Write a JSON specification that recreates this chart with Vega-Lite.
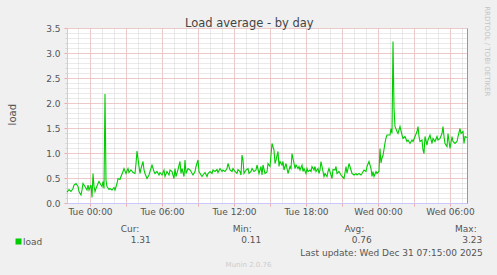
{
"$schema":"https://vega.github.io/schema/vega-lite/v6.json",
"width":400,"height":175,
"autosize":{"type":"none"},
"padding":{"left":67,"top":28,"right":30,"bottom":72},
"background":"#f0f0f0",
"config":{
 "view":{"fill":"#ffffff","stroke":null},
 "font":"DejaVu Sans",
 "axis":{"labelFont":"DejaVu Sans","titleFont":"DejaVu Sans","labelColor":"#555555","titleColor":"#555555","titleFontWeight":"normal","labelFontSize":9,"titleFontSize":9}
},
"datasets":{
"series":[
{"t":"2025-12-29T22:05","v":0.22},{"t":"2025-12-29T22:10","v":0.24},{"t":"2025-12-29T22:15","v":0.27},{"t":"2025-12-29T22:25","v":0.23},{"t":"2025-12-29T22:35","v":0.29},{"t":"2025-12-29T22:40","v":0.36},{"t":"2025-12-29T22:50","v":0.39},{"t":"2025-12-29T23:00","v":0.33},{"t":"2025-12-29T23:05","v":0.23},{"t":"2025-12-29T23:15","v":0.16},{"t":"2025-12-29T23:20","v":0.26},{"t":"2025-12-29T23:25","v":0.39},{"t":"2025-12-29T23:35","v":0.33},{"t":"2025-12-29T23:45","v":0.26},{"t":"2025-12-29T23:50","v":0.36},{"t":"2025-12-29T23:55","v":0.26},
{"t":"2025-12-30T00:05","v":0.36},{"t":"2025-12-30T00:10","v":0.11},{"t":"2025-12-30T00:15","v":0.59},{"t":"2025-12-30T00:20","v":0.33},{"t":"2025-12-30T00:25","v":0.23},{"t":"2025-12-30T00:30","v":0.29},{"t":"2025-12-30T00:40","v":0.39},{"t":"2025-12-30T00:45","v":0.43},{"t":"2025-12-30T00:55","v":0.36},{"t":"2025-12-30T01:00","v":0.33},{"t":"2025-12-30T01:05","v":0.43},{"t":"2025-12-30T01:10","v":0.29},{"t":"2025-12-30T01:15","v":2.18},{"t":"2025-12-30T01:20","v":0.45},{"t":"2025-12-30T01:25","v":0.33},{"t":"2025-12-30T01:35","v":0.27},{"t":"2025-12-30T01:40","v":0.29},{"t":"2025-12-30T01:50","v":0.26},{"t":"2025-12-30T02:00","v":0.31},{"t":"2025-12-30T02:05","v":0.26},{"t":"2025-12-30T02:15","v":0.39},{"t":"2025-12-30T02:20","v":0.49},{"t":"2025-12-30T02:30","v":0.47},{"t":"2025-12-30T02:35","v":0.53},{"t":"2025-12-30T02:45","v":0.63},{"t":"2025-12-30T02:50","v":0.69},{"t":"2025-12-30T03:00","v":0.59},{"t":"2025-12-30T03:10","v":0.69},{"t":"2025-12-30T03:15","v":0.61},{"t":"2025-12-30T03:25","v":0.66},{"t":"2025-12-30T03:35","v":0.61},{"t":"2025-12-30T03:45","v":0.59},{"t":"2025-12-30T03:50","v":0.79},{"t":"2025-12-30T03:55","v":1.04},{"t":"2025-12-30T04:05","v":0.73},{"t":"2025-12-30T04:10","v":0.59},{"t":"2025-12-30T04:15","v":0.69},{"t":"2025-12-30T04:25","v":0.83},{"t":"2025-12-30T04:30","v":0.66},{"t":"2025-12-30T04:35","v":0.59},{"t":"2025-12-30T04:45","v":0.49},{"t":"2025-12-30T04:55","v":0.56},{"t":"2025-12-30T05:00","v":0.63},{"t":"2025-12-30T05:10","v":0.76},{"t":"2025-12-30T05:20","v":0.63},{"t":"2025-12-30T05:25","v":0.59},{"t":"2025-12-30T05:35","v":0.63},{"t":"2025-12-30T05:45","v":0.56},{"t":"2025-12-30T05:50","v":0.61},{"t":"2025-12-30T06:00","v":0.56},{"t":"2025-12-30T06:10","v":0.66},{"t":"2025-12-30T06:15","v":0.53},{"t":"2025-12-30T06:25","v":0.63},{"t":"2025-12-30T06:35","v":0.56},{"t":"2025-12-30T06:40","v":0.66},{"t":"2025-12-30T06:50","v":0.63},{"t":"2025-12-30T07:00","v":0.49},{"t":"2025-12-30T07:05","v":0.69},{"t":"2025-12-30T07:10","v":0.53},{"t":"2025-12-30T07:20","v":0.67},{"t":"2025-12-30T07:30","v":0.83},{"t":"2025-12-30T07:35","v":0.59},{"t":"2025-12-30T07:40","v":0.69},{"t":"2025-12-30T07:50","v":0.53},{"t":"2025-12-30T07:55","v":0.86},{"t":"2025-12-30T08:00","v":0.59},{"t":"2025-12-30T08:10","v":0.69},{"t":"2025-12-30T08:20","v":0.66},{"t":"2025-12-30T08:25","v":0.63},{"t":"2025-12-30T08:35","v":0.56},{"t":"2025-12-30T08:45","v":0.63},{"t":"2025-12-30T08:50","v":0.73},{"t":"2025-12-30T09:00","v":0.86},{"t":"2025-12-30T09:05","v":0.63},{"t":"2025-12-30T09:15","v":0.56},{"t":"2025-12-30T09:20","v":0.53},{"t":"2025-12-30T09:25","v":0.56},{"t":"2025-12-30T09:35","v":0.61},{"t":"2025-12-30T09:45","v":0.53},{"t":"2025-12-30T09:50","v":0.59},{"t":"2025-12-30T10:00","v":0.63},{"t":"2025-12-30T10:10","v":0.59},{"t":"2025-12-30T10:15","v":0.66},{"t":"2025-12-30T10:25","v":0.63},{"t":"2025-12-30T10:35","v":0.67},{"t":"2025-12-30T10:40","v":0.61},{"t":"2025-12-30T10:50","v":0.69},{"t":"2025-12-30T11:00","v":0.63},{"t":"2025-12-30T11:05","v":0.66},{"t":"2025-12-30T11:15","v":0.63},{"t":"2025-12-30T11:25","v":0.69},{"t":"2025-12-30T11:30","v":0.79},{"t":"2025-12-30T11:40","v":0.66},{"t":"2025-12-30T11:50","v":0.63},{"t":"2025-12-30T11:55","v":0.69},{"t":"2025-12-30T12:05","v":0.63},{"t":"2025-12-30T12:15","v":0.59},{"t":"2025-12-30T12:20","v":0.67},{"t":"2025-12-30T12:30","v":0.63},{"t":"2025-12-30T12:35","v":0.56},{"t":"2025-12-30T12:40","v":0.96},{"t":"2025-12-30T12:45","v":0.86},{"t":"2025-12-30T12:50","v":0.59},{"t":"2025-12-30T13:00","v":0.66},{"t":"2025-12-30T13:10","v":0.69},{"t":"2025-12-30T13:15","v":0.59},{"t":"2025-12-30T13:25","v":0.63},{"t":"2025-12-30T13:30","v":0.69},{"t":"2025-12-30T13:40","v":0.63},{"t":"2025-12-30T13:50","v":0.66},{"t":"2025-12-30T13:55","v":0.76},{"t":"2025-12-30T14:05","v":0.59},{"t":"2025-12-30T14:15","v":0.73},{"t":"2025-12-30T14:20","v":0.56},{"t":"2025-12-30T14:25","v":0.76},{"t":"2025-12-30T14:35","v":0.59},{"t":"2025-12-30T14:45","v":0.62},{"t":"2025-12-30T14:50","v":0.79},{"t":"2025-12-30T15:00","v":0.73},{"t":"2025-12-30T15:05","v":0.96},{"t":"2025-12-30T15:10","v":1.19},{"t":"2025-12-30T15:20","v":1.06},{"t":"2025-12-30T15:25","v":0.79},{"t":"2025-12-30T15:30","v":0.86},{"t":"2025-12-30T15:40","v":1.03},{"t":"2025-12-30T15:45","v":0.73},{"t":"2025-12-30T15:50","v":0.83},{"t":"2025-12-30T16:00","v":0.76},{"t":"2025-12-30T16:05","v":0.83},{"t":"2025-12-30T16:10","v":0.66},{"t":"2025-12-30T16:20","v":0.79},{"t":"2025-12-30T16:25","v":0.69},{"t":"2025-12-30T16:30","v":0.59},{"t":"2025-12-30T16:40","v":0.73},{"t":"2025-12-30T16:45","v":0.69},{"t":"2025-12-30T16:50","v":0.99},{"t":"2025-12-30T17:00","v":0.79},{"t":"2025-12-30T17:05","v":0.69},{"t":"2025-12-30T17:10","v":0.76},{"t":"2025-12-30T17:20","v":0.69},{"t":"2025-12-30T17:25","v":0.73},{"t":"2025-12-30T17:30","v":0.66},{"t":"2025-12-30T17:40","v":0.76},{"t":"2025-12-30T17:45","v":0.63},{"t":"2025-12-30T17:50","v":0.69},{"t":"2025-12-30T18:00","v":0.59},{"t":"2025-12-30T18:05","v":0.69},{"t":"2025-12-30T18:10","v":0.63},{"t":"2025-12-30T18:20","v":0.66},{"t":"2025-12-30T18:25","v":0.63},{"t":"2025-12-30T18:30","v":0.73},{"t":"2025-12-30T18:40","v":0.66},{"t":"2025-12-30T18:45","v":0.73},{"t":"2025-12-30T18:50","v":0.63},{"t":"2025-12-30T19:00","v":0.69},{"t":"2025-12-30T19:05","v":0.59},{"t":"2025-12-30T19:10","v":0.66},{"t":"2025-12-30T19:15","v":0.83},{"t":"2025-12-30T19:25","v":0.63},{"t":"2025-12-30T19:30","v":0.53},{"t":"2025-12-30T19:35","v":0.59},{"t":"2025-12-30T19:45","v":0.53},{"t":"2025-12-30T19:50","v":0.63},{"t":"2025-12-30T19:55","v":0.69},{"t":"2025-12-30T20:05","v":0.56},{"t":"2025-12-30T20:10","v":0.49},{"t":"2025-12-30T20:15","v":0.67},{"t":"2025-12-30T20:25","v":0.66},{"t":"2025-12-30T20:30","v":0.73},{"t":"2025-12-30T20:35","v":0.59},{"t":"2025-12-30T20:45","v":0.63},{"t":"2025-12-30T20:55","v":0.56},{"t":"2025-12-30T21:00","v":0.53},{"t":"2025-12-30T21:10","v":0.49},{"t":"2025-12-30T21:20","v":0.73},{"t":"2025-12-30T21:25","v":0.59},{"t":"2025-12-30T21:35","v":0.79},{"t":"2025-12-30T21:45","v":0.66},{"t":"2025-12-30T21:50","v":0.59},{"t":"2025-12-30T22:00","v":0.56},{"t":"2025-12-30T22:10","v":0.59},{"t":"2025-12-30T22:15","v":0.56},{"t":"2025-12-30T22:25","v":0.59},{"t":"2025-12-30T22:35","v":0.56},{"t":"2025-12-30T22:40","v":0.59},{"t":"2025-12-30T22:50","v":0.66},{"t":"2025-12-30T23:00","v":0.63},{"t":"2025-12-30T23:05","v":0.73},{"t":"2025-12-30T23:15","v":0.83},{"t":"2025-12-30T23:25","v":0.69},{"t":"2025-12-30T23:30","v":0.53},{"t":"2025-12-30T23:35","v":0.63},{"t":"2025-12-30T23:40","v":0.53},{"t":"2025-12-30T23:50","v":0.63},{"t":"2025-12-30T23:55","v":0.59},
{"t":"2025-12-31T00:05","v":0.63},{"t":"2025-12-31T00:10","v":1.09},{"t":"2025-12-31T00:15","v":0.8},{"t":"2025-12-31T00:20","v":0.9},{"t":"2025-12-31T00:25","v":0.95},{"t":"2025-12-31T00:35","v":1.2},{"t":"2025-12-31T00:40","v":1.3},{"t":"2025-12-31T00:45","v":1.36},{"t":"2025-12-31T00:50","v":1.36},{"t":"2025-12-31T01:00","v":1.36},{"t":"2025-12-31T01:05","v":1.49},{"t":"2025-12-31T01:10","v":1.39},{"t":"2025-12-31T01:15","v":3.23},{"t":"2025-12-31T01:20","v":1.9},{"t":"2025-12-31T01:25","v":1.53},{"t":"2025-12-31T01:35","v":1.43},{"t":"2025-12-31T01:40","v":1.39},{"t":"2025-12-31T01:50","v":1.53},{"t":"2025-12-31T02:00","v":1.36},{"t":"2025-12-31T02:05","v":1.29},{"t":"2025-12-31T02:15","v":1.33},{"t":"2025-12-31T02:25","v":1.23},{"t":"2025-12-31T02:30","v":1.26},{"t":"2025-12-31T02:40","v":1.19},{"t":"2025-12-31T02:50","v":1.26},{"t":"2025-12-31T02:55","v":1.23},{"t":"2025-12-31T03:05","v":1.33},{"t":"2025-12-31T03:15","v":1.43},{"t":"2025-12-31T03:20","v":1.53},{"t":"2025-12-31T03:25","v":1.33},{"t":"2025-12-31T03:30","v":1.23},{"t":"2025-12-31T03:40","v":1.26},{"t":"2025-12-31T03:45","v":1.06},{"t":"2025-12-31T03:50","v":0.99},{"t":"2025-12-31T03:55","v":1.33},{"t":"2025-12-31T04:05","v":1.16},{"t":"2025-12-31T04:10","v":1.26},{"t":"2025-12-31T04:20","v":1.36},{"t":"2025-12-31T04:30","v":1.19},{"t":"2025-12-31T04:35","v":1.29},{"t":"2025-12-31T04:45","v":1.23},{"t":"2025-12-31T04:55","v":1.33},{"t":"2025-12-31T05:00","v":1.26},{"t":"2025-12-31T05:10","v":1.29},{"t":"2025-12-31T05:20","v":1.39},{"t":"2025-12-31T05:25","v":1.53},{"t":"2025-12-31T05:30","v":1.33},{"t":"2025-12-31T05:35","v":1.19},{"t":"2025-12-31T05:45","v":1.13},{"t":"2025-12-31T05:50","v":1.39},{"t":"2025-12-31T06:00","v":1.09},{"t":"2025-12-31T06:10","v":1.33},{"t":"2025-12-31T06:15","v":1.23},{"t":"2025-12-31T06:25","v":1.19},{"t":"2025-12-31T06:35","v":1.23},{"t":"2025-12-31T06:40","v":1.33},{"t":"2025-12-31T06:50","v":1.49},{"t":"2025-12-31T06:55","v":1.39},{"t":"2025-12-31T07:05","v":1.43},{"t":"2025-12-31T07:10","v":1.19},{"t":"2025-12-31T07:15","v":1.33},{"t":"2025-12-31T07:25","v":1.31}
],
"stats":[
{"col":"Cur","row":"header","text":"Cur:"},{"col":"Min","row":"header","text":"Min:"},{"col":"Avg","row":"header","text":"Avg:"},{"col":"Max","row":"header","text":"Max:"},
{"col":"Cur","row":"value","text":"1.31"},{"col":"Min","row":"value","text":"0.11"},{"col":"Avg","row":"value","text":"0.76"},{"col":"Max","row":"value","text":"3.23"}
]
},
"layer":[
{
 "data":{"name":"series"},
 "mark":{"type":"line","strokeOpacity":0},
 "encoding":{
  "x":{"field":"t","type":"temporal",
   "axis":{"orient":"top","grid":true,"gridColor":"#d4d4d4","gridDash":[1,1],"tickCount":33,"labels":false,"ticks":false,"domain":false,
    "title":"Load average - by day","titleFontSize":11.5,"titleColor":"#444444","titleX":181.8,"titleY":-1.5,"titleAlign":"center","titleBaseline":"alphabetic"}},
  "y":{"field":"v","type":"quantitative","scale":{"domain":[0,3.5],"nice":false,"zero":false},
   "axis":{"orient":"left","grid":true,"gridColor":"#d4d4d4","gridDash":[1,1],
    "values":[0,0.1,0.2,0.3,0.4,0.5,0.6,0.7,0.8,0.9,1,1.1,1.2,1.3,1.4,1.5,1.6,1.7,1.8,1.9,2,2.1,2.2,2.3,2.4,2.5,2.6,2.7,2.8,2.9,3,3.1,3.2,3.3,3.4,3.5],
    "labels":false,"ticks":true,"tickColor":"#d4d4d4","tickSize":2,"domain":false,"title":null}}
 }
},
{
 "data":{"name":"series"},
 "mark":{"type":"line","strokeOpacity":0},
 "encoding":{
  "x":{"field":"t","type":"temporal",
   "axis":{"orient":"bottom","grid":true,"gridColor":"#eeaaaa","gridDash":[1,1],"tickCount":11,"labels":false,"ticks":true,"tickColor":"#eeaaaa","tickSize":3,"domain":false,
    "title":"Munin 2.0.76","titleFontSize":7,"titleColor":"#cccccc","titleX":181,"titleY":63,"titleAlign":"center","titleBaseline":"alphabetic"}},
  "y":{"field":"v","type":"quantitative","scale":{"domain":[0,3.5],"nice":false,"zero":false},
   "axis":{"orient":"right","grid":true,"gridColor":"#eeaaaa","gridDash":[1,1],
    "values":[0,0.5,1,1.5,2,2.5,3,3.5],
    "labels":false,"ticks":false,"domain":true,"domainColor":"#999999",
    "title":"RRDTOOL / TOBI OETIKER","titleFontSize":7,"titleColor":"#c4c4c4","titleAngle":90,"titleX":17.3,"titleY":22.8,"titleAlign":"center","titleBaseline":"alphabetic"}}
 }
},
{
 "data":{"name":"series"},
 "mark":{"type":"line","color":"#00cc00","strokeWidth":1.1},
 "encoding":{
  "x":{"field":"t","type":"temporal",
   "axis":{"orient":"bottom","grid":false,"format":"%a %H:%M","tickCount":5,"labelFlush":false,"labelOverlap":false,"labelPadding":4,"ticks":false,"domain":true,"domainColor":"#c8c8ff",
    "title":"Last update: Wed Dec 31 07:15:00 2025","titleX":415.3,"titleY":52,"titleAlign":"right","titleBaseline":"alphabetic"}},
  "y":{"field":"v","type":"quantitative","scale":{"domain":[0,3.5],"nice":false,"zero":false},
   "axis":{"orient":"left","grid":false,"values":[0,0.5,1,1.5,2,2.5,3,3.5],"format":".1f","labelPadding":4,"ticks":true,"tickColor":"#eeaaaa","tickSize":3,"domain":true,"domainColor":"#c8c8ff",
    "title":"load","titleFontSize":10,"titleAngle":270,"titleX":-52,"titleY":86.2,"titleAlign":"center","titleBaseline":"alphabetic"}},
  "color":{"datum":"load","scale":{"domain":["load"],"range":["#00cc00"]},
   "legend":{"title":null,"orient":"none","legendX":-53,"legendY":209,"symbolType":"square","symbolSize":36,"symbolFillColor":"#00cc00","symbolStrokeWidth":0,"labelFontSize":9,"labelColor":"#555555","labelOffset":0,"padding":0}}
 }
},
{
 "data":{"name":"stats"},
 "transform":[{"filter":"datum.row === 'header'"}],
 "mark":{"type":"text","align":"right","baseline":"alphabetic","fontSize":9,"color":"#555555"},
 "encoding":{
  "x":{"field":"col","type":"nominal","scale":{"type":"point","domain":["Cur","Min","Avg","Max"],"range":[72.3,409.7],"padding":0},"axis":null},
  "y":{"field":"row","type":"nominal","scale":{"type":"point","domain":["header","value"],"range":[204,214.5],"padding":0},"axis":null},
  "text":{"field":"text"}
 }
},
{
 "data":{"name":"stats"},
 "transform":[{"filter":"datum.row === 'value'"}],
 "mark":{"type":"text","align":"right","baseline":"alphabetic","fontSize":9,"color":"#555555"},
 "encoding":{
  "x":{"field":"col","type":"nominal","scale":{"type":"point","domain":["Cur","Min","Avg","Max"],"range":[83.7,415.3],"padding":0},"axis":null},
  "y":{"field":"row","type":"nominal","scale":{"type":"point","domain":["header","value"],"range":[204,214.5],"padding":0},"axis":null},
  "text":{"field":"text"}
 }
}
],
"resolve":{"scale":{"x":"independent","y":"independent"},"axis":{"x":"independent","y":"independent"}}
}
